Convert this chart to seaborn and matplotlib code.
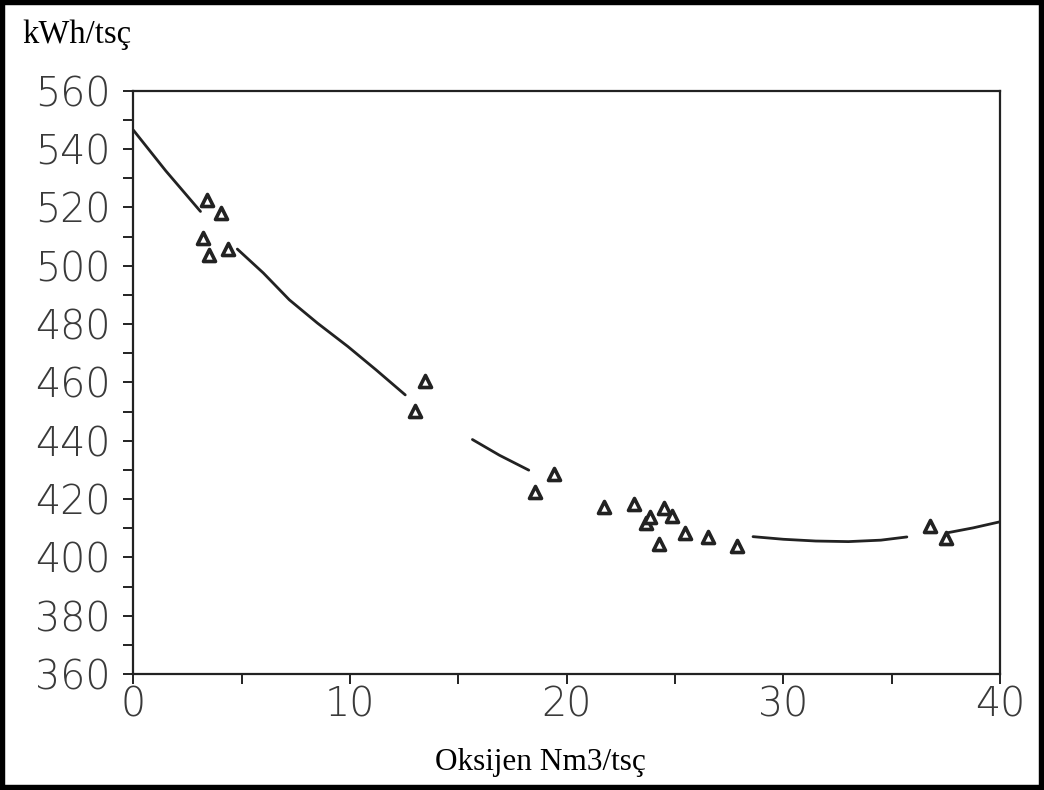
import pandas as pd
import matplotlib.pyplot as plt
import seaborn as sns
from matplotlib.patches import Rectangle
from matplotlib.ticker import MultipleLocator

# --- datos ---
# puntos medidos (triangulos)
OXYGEN = [3.4, 4.05, 3.2, 3.5, 4.35, 13.0, 13.45, 18.55, 19.4,
          21.7, 23.1, 23.65, 23.85, 24.25, 24.5, 24.85, 25.45,
          26.5, 27.85, 36.75, 37.5]
ENERGY = [522.5, 518.0, 509.5, 503.5, 505.8, 450.2, 460.3, 422.3, 428.5,
          417.2, 418.2, 411.7, 414.0, 404.6, 416.8, 414.3, 408.3,
          407.1, 404.0, 410.8, 406.8]

# curva de ajuste (tramos separados como en el original)
CURVE_X = [0.0, 1.5, 3.1,
           4.8, 6.0, 7.2, 8.5, 9.9, 11.2, 12.55,
           15.65, 16.9, 18.25,
           28.6, 30.0, 31.5, 33.0, 34.5, 35.7,
           37.55, 38.75, 40.0]
CURVE_Y = [546.5, 532.5, 518.6,
           505.7, 497.5, 488.3, 480.3, 472.3, 464.3, 455.7,
           440.4, 435.0, 429.9,
           407.1, 406.2, 405.6, 405.4, 405.9, 407.0,
           408.4, 410.1, 412.2]
CURVE_SEG = [1, 1, 1,
             2, 2, 2, 2, 2, 2, 2,
             3, 3, 3,
             4, 4, 4, 4, 4, 4,
             5, 5, 5]

Y_LABEL = 'kWh/tsç'
X_LABEL = 'Oksijen Nm3/tsç'
INK = '#222222'

points = pd.DataFrame({'x': OXYGEN, 'y': ENERGY})
curve = pd.DataFrame({'x': CURVE_X, 'y': CURVE_Y, 'seg': CURVE_SEG})

sns.set_style('ticks')
plt.rcParams['font.family'] = ['DejaVu Sans']

fig = plt.figure(figsize=(10.44, 7.90), dpi=100)
ax = fig.add_axes([0.1277, 0.1468, 0.9579 - 0.1277, 0.8852 - 0.1468])

sns.lineplot(data=curve, x='x', y='y', units='seg', estimator=None, sort=False,
             color=INK, linewidth=2.0, ax=ax)
sns.scatterplot(data=points, x='x', y='y', marker='^', s=75, color='white',
                edgecolor=INK, linewidth=2.6, zorder=3, ax=ax)

ax.set_xlim(0, 40)
ax.set_ylim(360, 560)
ax.xaxis.set_major_locator(MultipleLocator(10))
ax.xaxis.set_minor_locator(MultipleLocator(5))
ax.yaxis.set_major_locator(MultipleLocator(20))
ax.yaxis.set_minor_locator(MultipleLocator(10))
ax.set_xlabel('')
ax.set_ylabel('')

for side in ['left', 'right', 'top', 'bottom']:
    ax.spines[side].set_visible(True)
    ax.spines[side].set_color(INK)
    ax.spines[side].set_linewidth(1.6)

ax.tick_params(axis='both', which='both', direction='out', length=7.5,
               width=1.4, color=INK, labelcolor='#3a3a3a', labelsize=28.5)
ax.tick_params(axis='y', which='both', pad=9)
ax.tick_params(axis='x', which='both', pad=1)
for lab in ax.get_xticklabels() + ax.get_yticklabels():
    lab.set_fontweight('light')

# etiquetas de ejes (tipografia serif, como en el original)
fig.text(22 / 1044, 1 - 43 / 790, Y_LABEL, family=['Liberation Serif', 'DejaVu Serif'],
         fontsize=23.5, ha='left', va='baseline', color='black')
fig.text(540 / 1044, 1 - 770 / 790, X_LABEL, family=['Liberation Serif', 'DejaVu Serif'],
         fontsize=22.5, ha='center', va='baseline', color='black')

# marco negro alrededor de la figura
fig.patches.append(Rectangle((0, 0), 1, 1, transform=fig.transFigure, fill=False,
                             edgecolor='black', linewidth=7.5))

fig.savefig('out.png', dpi=100, facecolor='white')
plt.close(fig)
